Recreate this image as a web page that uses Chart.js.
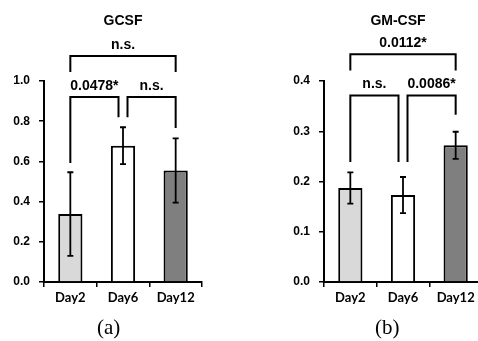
<!DOCTYPE html>
<html>
<head>
<meta charset="utf-8">
<script src="https://cdn.jsdelivr.net/npm/chart.js@4"></script>
<style>
  html, body { margin: 0; padding: 0; background: #fff; overflow: hidden; }
  body { width: 478px; height: 341px; position: relative; }
  .panel { position: absolute; top: 0; height: 341px; }
  #wrapA { left: 0; width: 240px; }
  #wrapB { left: 240px; width: 250px; }
  .caption { position: absolute; top: 315px; font-family: "Liberation Serif", serif; font-size: 21px; color: #000; }
</style>
</head>
<body>
<div class="panel" id="wrapA"><canvas id="chartA" width="240" height="341"></canvas></div>
<div class="panel" id="wrapB"><canvas id="chartB" width="250" height="341"></canvas></div>
<div class="caption" style="left:97px">(a)</div>
<div class="caption" style="left:375px">(b)</div>
<script>
const categories = ['Day2', 'Day6', 'Day12']
const barColors = ['#d9d9d9', '#ffffff', '#7f7f7f']

const gcsfMeans = [0.338, 0.678, 0.555]
const gcsfErrors = [0.208, 0.092, 0.16]
const gcsfTicks = [0, 0.2, 0.4, 0.6, 0.8, 1.0]
// from / to = category index, y = bar height, left / right = where legs stop
const gcsfBrackets = [
    { from: 0, to: 2, y: 1.124, left: 1.045, right: 1.045, label: 'n.s.' },
    { from: 0, to: 1, y: 0.92, left: 0.592, right: 0.82, label: '0.0478*' },
    { from: 1, to: 2, y: 0.92, left: 0.82, right: 0.766, label: 'n.s.' },
]

const gmcsfMeans = [0.187, 0.173, 0.272]
const gmcsfErrors = [0.031, 0.036, 0.027]
const gmcsfTicks = [0, 0.1, 0.2, 0.3, 0.4]
const gmcsfBrackets = [
    { from: 0, to: 2, y: 0.453, left: 0.421, right: 0.421, label: '0.0112*' },
    { from: 0, to: 1, y: 0.371, left: 0.239, right: 0.239, label: 'n.s.' },
    { from: 1, to: 2, y: 0.371, left: 0.239, right: 0.333, label: '0.0086*' },
]

// error bars + significance brackets + title
const extrasPlugin = {
    id: 'extras',
    afterDatasetsDraw(chart) {
        const cfg = chart.options.plugins.extras
        const ctx = chart.ctx
        const x = chart.scales.x
        const y = chart.scales.y
        ctx.save()
        ctx.strokeStyle = '#000'
        ctx.fillStyle = '#000'

        // error bars
        ctx.lineWidth = 1.8
        cfg.means.forEach((m, i) => {
            const cx = x.getPixelForValue(i)
            const top = y.getPixelForValue(m + cfg.errors[i])
            const bot = y.getPixelForValue(m - cfg.errors[i])
            ctx.beginPath()
            ctx.moveTo(cx, top); ctx.lineTo(cx, bot)
            ctx.moveTo(cx - 3, top); ctx.lineTo(cx + 3, top)
            ctx.moveTo(cx - 3, bot); ctx.lineTo(cx + 3, bot)
            ctx.stroke()
        })

        // brackets
        ctx.lineWidth = 2
        ctx.font = 'bold 14px "Liberation Sans", Arial, sans-serif'
        ctx.textAlign = 'center'
        ctx.textBaseline = 'middle'
        cfg.brackets.forEach((b) => {
            const wide = b.to - b.from > 1
            let x1 = x.getPixelForValue(b.from)
            let x2 = x.getPixelForValue(b.to)
            if (!wide) {
                if (b.from === 1) x1 += 4.5
                if (b.to === 1) x2 -= 4.5
            }
            const yy = y.getPixelForValue(b.y)
            ctx.beginPath()
            ctx.moveTo(x1, y.getPixelForValue(b.left))
            ctx.lineTo(x1, yy)
            ctx.lineTo(x2, yy)
            ctx.lineTo(x2, y.getPixelForValue(b.right))
            ctx.stroke()
            ctx.fillText(b.label, (x1 + x2) / 2, yy - 11)
        })

        // title
        ctx.font = 'bold 14px "Liberation Sans", Arial, sans-serif'
        const tx = (x.getPixelForValue(0) + x.getPixelForValue(2)) / 2 + cfg.titleShift
        ctx.fillText(cfg.title, tx, 21)
        ctx.restore()
    }
}

function makeChart(canvasId, means, errors, ticks, brackets, title, yWidth, padRight, titleShift) {
    const yMax = ticks[ticks.length - 1]
    return new Chart(document.getElementById(canvasId), {
        type: 'bar',
        data: {
            labels: categories,
            datasets: [{
                data: means,
                backgroundColor: barColors,
                borderColor: '#000',
                borderWidth: 2,
                borderSkipped: 'bottom',
                barPercentage: 0.46,
                categoryPercentage: 1,
            }]
        },
        options: {
            responsive: false,
            animation: false,
            layout: { padding: { top: 81, right: padRight, left: 0, bottom: 0 } },
            plugins: {
                legend: { display: false },
                tooltip: { enabled: false },
                extras: { means: means, errors: errors, brackets: brackets, title: title, titleShift: titleShift }
            },
            scales: {
                x: {
                    afterFit: (s) => { s.height = 59 },
                    border: { color: '#000', width: 2 },
                    grid: { drawOnChartArea: false, drawTicks: true, tickLength: 5, color: '#000', lineWidth: 1.5 },
                    ticks: {
                        color: '#000',
                        padding: 3,
                        font: { family: 'Lato, "Open Sans", sans-serif', weight: 'bold', size: 13 }
                    }
                },
                y: {
                    min: 0,
                    max: yMax,
                    afterFit: (s) => { s.width = yWidth },
                    afterBuildTicks: (s) => { s.ticks = ticks.map(v => ({ value: v })) },
                    border: { color: '#000', width: 2 },
                    grid: { drawOnChartArea: false, drawTicks: true, tickLength: 5, color: '#000', lineWidth: 1.5 },
                    ticks: {
                        color: '#000',
                        padding: 9,
                        callback: (v) => Number(v).toFixed(1),
                        font: { family: '"Liberation Sans", Arial, sans-serif', weight: 'bold', size: 12 }
                    }
                }
            }
        },
        plugins: [extrasPlugin]
    })
}

makeChart('chartA', gcsfMeans, gcsfErrors, gcsfTicks, gcsfBrackets, 'GCSF', 44, 38, 0)
makeChart('chartB', gmcsfMeans, gmcsfErrors, gmcsfTicks, gmcsfBrackets, 'GM-CSF', 84, 8, -5)
</script>
</body>
</html>
